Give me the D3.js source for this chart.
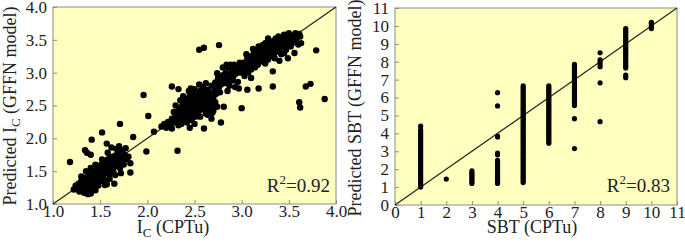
<!DOCTYPE html>
<html><head><meta charset="utf-8">
<script src="https://cdn.jsdelivr.net/npm/d3@7/dist/d3.min.js"></script>
<style>body{margin:0;background:#fff}svg{display:block}text{font-family:"Liberation Serif","Times New Roman",Times,serif}</style>
</head><body>
<svg id="c" width="685" height="252"></svg>
<script>
// ---------- Data: left panel (Ic) as [CPTu, predicted] ----------
const icClusterLow = [
[1.22,1.22],[1.24,1.28],[1.25,1.25],[1.27,1.31],[1.28,1.24],[1.30,1.27],[1.30,1.35],[1.32,1.22],[1.33,1.30],[1.34,1.40],
[1.35,1.27],[1.36,1.34],[1.37,1.20],[1.38,1.45],[1.39,1.30],[1.40,1.38],[1.41,1.25],[1.42,1.48],[1.43,1.34],[1.44,1.42],
[1.45,1.29],[1.46,1.52],[1.47,1.38],[1.48,1.46],[1.49,1.56],[1.50,1.35],[1.50,1.44],[1.51,1.60],[1.52,1.50],[1.53,1.40],
[1.54,1.55],[1.55,1.64],[1.55,1.46],[1.56,1.58],[1.57,1.50],[1.58,1.68],[1.59,1.55],[1.60,1.45],[1.60,1.62],[1.61,1.72],
[1.62,1.57],[1.63,1.66],[1.64,1.50],[1.65,1.62],[1.66,1.74],[1.67,1.58],[1.68,1.68],[1.69,1.78],[1.70,1.64],[1.71,1.55],
[1.72,1.72],[1.73,1.82],[1.74,1.66],[1.75,1.60],[1.76,1.75],[1.78,1.68],[1.80,1.72],[1.82,1.62],[1.62,1.86],[1.67,1.84],
[1.70,1.88],[1.58,1.78],[1.52,1.68],[1.45,1.60],[1.40,1.55],[1.35,1.50],[1.30,1.42],[1.48,1.28],[1.55,1.36],[1.60,1.38],
[1.66,1.44],[1.72,1.47],[1.40,1.16],[1.33,1.17],[1.28,1.19],[1.45,1.21],[1.57,1.30],
[1.50,1.52],[1.54,1.50],[1.58,1.60],[1.62,1.64],[1.66,1.66],[1.46,1.46],[1.42,1.40],[1.38,1.36],[1.34,1.33],[1.56,1.54],
[1.64,1.70],[1.70,1.70],[1.60,1.52],[1.52,1.58],[1.48,1.40],[1.44,1.36],[1.36,1.28],[1.32,1.26],[1.26,1.22]
];
const icClusterMid = [
[2.15,2.18],[2.18,2.22],[2.20,2.16],[2.22,2.25],[2.24,2.20],[2.26,2.30],[2.28,2.24],[2.30,2.34],[2.31,2.27],[2.32,2.40],
[2.33,2.20],[2.34,2.45],[2.35,2.32],[2.36,2.38],[2.37,2.50],[2.38,2.28],[2.39,2.44],[2.40,2.55],[2.40,2.36],[2.41,2.48],
[2.42,2.60],[2.43,2.30],[2.43,2.42],[2.44,2.53],[2.45,2.65],[2.46,2.36],[2.46,2.47],[2.47,2.58],[2.48,2.70],[2.49,2.42],
[2.50,2.52],[2.50,2.62],[2.51,2.33],[2.52,2.46],[2.52,2.56],[2.53,2.67],[2.54,2.40],[2.55,2.50],[2.55,2.60],[2.56,2.72],
[2.57,2.44],[2.58,2.55],[2.58,2.64],[2.59,2.78],[2.60,2.48],[2.60,2.58],[2.61,2.68],[2.62,2.38],[2.63,2.52],[2.63,2.62],
[2.64,2.74],[2.65,2.45],[2.66,2.57],[2.67,2.66],[2.68,2.80],[2.69,2.50],[2.70,2.62],[2.71,2.72],[2.72,2.55],[2.73,2.68],
[2.35,2.58],[2.38,2.64],[2.44,2.72],[2.30,2.50],[2.28,2.40],[2.50,2.75],[2.55,2.82],[2.62,2.84],[2.47,2.28],[2.56,2.33],
[2.64,2.36],[2.70,2.42],[2.74,2.48],[2.26,2.15],[2.36,2.22],[2.42,2.24],
[2.45,2.50],[2.48,2.55],[2.53,2.60],[2.57,2.52],[2.42,2.40],[2.38,2.34],[2.34,2.28],[2.52,2.38],[2.61,2.62],[2.65,2.70],
[2.58,2.70],[2.48,2.64],[2.40,2.46],[2.62,2.45],[2.66,2.52],[2.54,2.46],[2.46,2.42],[2.50,2.48],[2.56,2.66],[2.44,2.60],
[2.32,2.34],[2.29,2.29],[2.20,2.21],[2.68,2.60],[2.72,2.76],[2.60,2.54],[2.42,2.54],[2.36,2.44]
];
const icTransition = [
[2.72,2.85],[2.75,2.92],[2.76,2.78],[2.78,2.88],[2.80,2.96],[2.82,2.84],[2.83,3.00],[2.85,2.90],[2.86,3.08],[2.87,2.80],
[2.88,2.95],[2.90,3.04],[2.91,2.88],[2.92,3.12],[2.93,2.98],[2.95,3.06],[2.96,2.86],[2.98,3.15],[2.99,3.00],[2.80,3.08],
[2.84,3.12],[2.77,2.70],[2.85,2.72],[2.93,2.78],[2.88,3.12],[2.74,2.99],[2.97,2.76],[3.06,2.74],[2.81,2.48],[2.69,2.39],
[2.82,2.92],[2.89,3.00],[2.94,3.02],[2.97,3.10],[2.78,2.82],[2.86,2.86],[2.91,2.94],[3.01,3.10]
];
const icClusterHigh = [
[3.00,3.05],[3.02,3.15],[3.03,2.95],[3.05,3.10],[3.06,3.22],[3.07,3.00],[3.08,3.14],[3.10,3.25],[3.10,3.05],[3.12,3.18],
[3.13,3.30],[3.14,3.08],[3.15,3.22],[3.16,3.34],[3.17,3.12],[3.18,3.26],[3.20,3.38],[3.20,3.17],[3.21,3.30],[3.22,3.42],
[3.23,3.21],[3.24,3.34],[3.25,3.14],[3.26,3.27],[3.27,3.40],[3.28,3.20],[3.29,3.32],[3.30,3.45],[3.31,3.25],[3.32,3.37],
[3.33,3.48],[3.34,3.28],[3.35,3.40],[3.36,3.52],[3.37,3.32],[3.38,3.44],[3.39,3.55],[3.40,3.36],[3.41,3.48],[3.42,3.28],
[3.43,3.52],[3.44,3.40],[3.45,3.58],[3.46,3.46],[3.47,3.35],[3.48,3.54],[3.49,3.44],[3.50,3.60],[3.51,3.50],[3.52,3.40],
[3.54,3.56],[3.55,3.46],[3.57,3.60],[3.58,3.52],[3.60,3.57],[3.62,3.55],[3.25,3.45],[3.18,3.40],[3.12,3.36],[3.35,3.22],
[3.45,3.30],[3.05,3.28],[3.28,3.52],
[3.08,3.20],[3.14,3.16],[3.19,3.22],[3.24,3.28],[3.28,3.36],[3.32,3.42],[3.36,3.46],[3.40,3.42],[3.44,3.50],[3.48,3.48],
[3.52,3.54],[3.56,3.52],[3.30,3.30],[3.26,3.34],[3.22,3.26],[3.16,3.28],[3.10,3.12],[3.04,3.04],[3.38,3.38],[3.42,3.46],
[3.46,3.52],[3.34,3.34],[3.20,3.32],[3.12,3.24],[3.58,3.58],[3.54,3.50]
];
const icOutliers = [
[1.18,1.64],[1.34,1.82],[1.36,1.78],[1.41,1.98],[1.40,1.75],[1.52,2.09],[1.57,1.92],[1.71,2.22],[1.85,2.02],[1.82,1.48],
[1.65,1.31],[1.77,1.85],[1.37,1.15],[1.55,1.29],
[1.96,2.66],[2.01,2.34],[1.99,1.80],[2.32,1.81],[2.07,2.10],[2.26,2.79],[2.33,2.75],[2.46,2.76],[2.45,2.16],[2.60,2.15],
[2.78,2.24],[3.00,2.46],[2.50,2.22],[2.68,2.30],
[2.55,3.35],[2.60,3.38],[2.76,3.42],[3.79,3.34],[3.68,2.79],[3.73,2.83],[3.61,2.55],[3.62,2.47],[3.88,2.60],[3.56,3.30],
[3.49,3.22],[3.33,3.02],[3.18,2.76],[3.33,2.79],[3.40,3.18],[3.63,3.45],[3.61,3.59],[3.10,2.92],[3.60,3.43]
];
const icTicks = [1.0,1.5,2.0,2.5,3.0,3.5,4.0];

// ---------- Data: right panel (SBT) as column -> predicted values ----------
const sbtCategories = [1,2,3,4,5,6,7,8,9,10];
const sbtPredicted = {
 1: [1.0,1.1,1.2,1.3,1.4,1.5,1.6,1.7,1.8,1.9,2.0,2.1,2.2,2.3,2.4,2.5,2.6,2.7,2.8,2.9,3.0,3.1,3.2,3.3,3.4,3.5,3.6,3.7,3.8,3.9,4.0,4.1,4.2,4.4],
 2: [1.45],
 3: [1.2,1.3,1.4,1.5,1.6,1.7,1.8,1.9],
 4: [1.2,1.3,1.4,1.5,1.6,1.7,1.8,1.9,2.0,2.1,2.2,2.3,2.4,2.5,2.8,2.9,3.8,3.85,5.53,6.27],
 5: [1.25,1.35,1.45,1.55,1.65,1.75,1.85,1.95,2.05,2.15,2.25,2.35,2.45,2.55,2.65,2.75,2.85,2.95,3.05,3.15,3.25,3.35,3.45,3.55,3.65,3.75,3.85,3.95,4.05,4.15,4.25,4.35,4.45,4.55,4.65,4.75,4.85,4.95,5.05,5.15,5.25,5.35,5.45,5.55,5.65,5.75,5.85,5.95,6.05,6.15,6.25,6.35,6.45,6.55,6.65],
 6: [3.45,3.55,3.65,3.75,3.85,3.95,4.05,4.15,4.25,4.35,4.45,4.55,4.65,4.75,4.85,4.95,5.05,5.15,5.25,5.35,5.45,5.55,5.65,5.75,5.85,5.95,6.05,6.15,6.25,6.35,6.45,6.55,6.65],
 7: [3.15,4.82,5.55,5.65,5.75,5.85,5.95,6.05,6.15,6.25,6.35,6.45,6.55,6.65,6.75,6.85,6.95,7.05,7.15,7.25,7.35,7.45,7.55,7.65,7.75,7.85],
 8: [4.65,6.82,7.72,7.85,8.0,8.1,8.5],
 9: [7.11,7.25,7.65,7.75,7.85,7.95,8.05,8.15,8.25,8.35,8.45,8.55,8.65,8.75,8.85,8.95,9.05,9.15,9.25,9.35,9.45,9.55,9.65,9.75,9.85],
 10: [9.85,9.95,10.05,10.15,10.2]
};
const sbtTicks = [0,1,2,3,4,5,6,7,8,9,10,11];

// ---------- Drawing ----------
const svg = d3.select("#c");
const FONT = "Liberation Serif";
const BG = "#ffffc0";

function panel(cfg){
  const x = d3.scaleLinear().domain(cfg.domain).range([cfg.left, cfg.right]);
  const y = d3.scaleLinear().domain(cfg.domain).range([cfg.bottom, cfg.top]);
  const g = svg.append("g");
  g.append("rect").attr("x",cfg.left).attr("y",cfg.top)
    .attr("width",cfg.right-cfg.left).attr("height",cfg.bottom-cfg.top)
    .attr("fill",BG).attr("stroke","#8c8c8c").attr("stroke-width",1);
  const xa = g.append("g").attr("transform",`translate(0,${cfg.bottom})`)
    .call(d3.axisBottom(x).tickValues(cfg.ticks).tickFormat(cfg.fmt).tickSizeInner(-4).tickSizeOuter(0).tickPadding(1));
  const ya = g.append("g").attr("transform",`translate(${cfg.left},0)`)
    .call(d3.axisLeft(y).tickValues(cfg.ticks).tickFormat(cfg.fmt).tickSizeInner(-4).tickSizeOuter(0).tickPadding(cfg.ypad));
  [xa,ya].forEach(a=>{
    a.attr("font-family",FONT).attr("font-size",17);
    a.select(".domain").remove();
    a.selectAll(".tick line").attr("stroke","#8c8c8c");
    a.selectAll(".tick text").attr("font-family",FONT).attr("font-size",17).attr("fill","#222");
  });
  g.append("line").attr("x1",x(cfg.domain[0])).attr("y1",y(cfg.domain[0]))
    .attr("x2",x(cfg.domain[1])).attr("y2",y(cfg.domain[1]))
    .attr("stroke","#222").attr("stroke-width",1.2);
  g.append("g").selectAll("circle").data(cfg.points).join("circle")
    .attr("cx",d=>x(d[0])).attr("cy",d=>y(d[1])).attr("r",cfg.r).attr("fill","#000");
  return {x,y,g};
}

const leftPts = [].concat(icClusterLow, icClusterMid, icTransition, icClusterHigh, icOutliers);
panel({domain:[1,4], left:53, right:336, top:7, bottom:204, ticks:icTicks,
  fmt:d3.format(".1f"), points:leftPts, r:3.2, ypad:6});

const rightPts = [];
sbtCategories.forEach(c => sbtPredicted[c].forEach(v => rightPts.push([c, v])));
panel({domain:[0,11], left:395, right:677, top:8, bottom:205, ticks:sbtTicks,
  fmt:d3.format("d"), points:rightPts, r:2.6, ypad:6});

// ---------- Titles ----------
function txt(x,y,anchor,rot){
  const t = svg.append("text").attr("font-family",FONT).attr("font-size",18).attr("fill","#222")
    .attr("text-anchor",anchor);
  if(rot) t.attr("transform",`translate(${x},${y}) rotate(-90)`);
  else t.attr("x",x).attr("y",y);
  return t;
}
let t = txt(173,233,"middle");
t.append("tspan").text("I");
t.append("tspan").attr("font-size",13).attr("dy",4).text("C");
t.append("tspan").attr("dy",-4).text(" (CPTu)");
t = txt(16,106,"middle",true);
t.append("tspan").text("Predicted I");
t.append("tspan").attr("font-size",13).attr("dy",4).text("C");
t.append("tspan").attr("dy",-4).text(" (GFFN model)");
txt(532,233,"middle").text("SBT (CPTu)");
txt(361,108,"middle",true).text("Predicted SBT (GFFN model)");
function r2(x,y,val){
  const t = txt(x,y,"end");
  t.attr("font-size",19);
  t.append("tspan").text("R");
  t.append("tspan").attr("font-size",13).attr("dy",-8).text("2");
  t.append("tspan").attr("dy",8).text("=" + val);
}
r2(330,192,"0.92");
r2(670,192,"0.83");
</script>
</body></html>
